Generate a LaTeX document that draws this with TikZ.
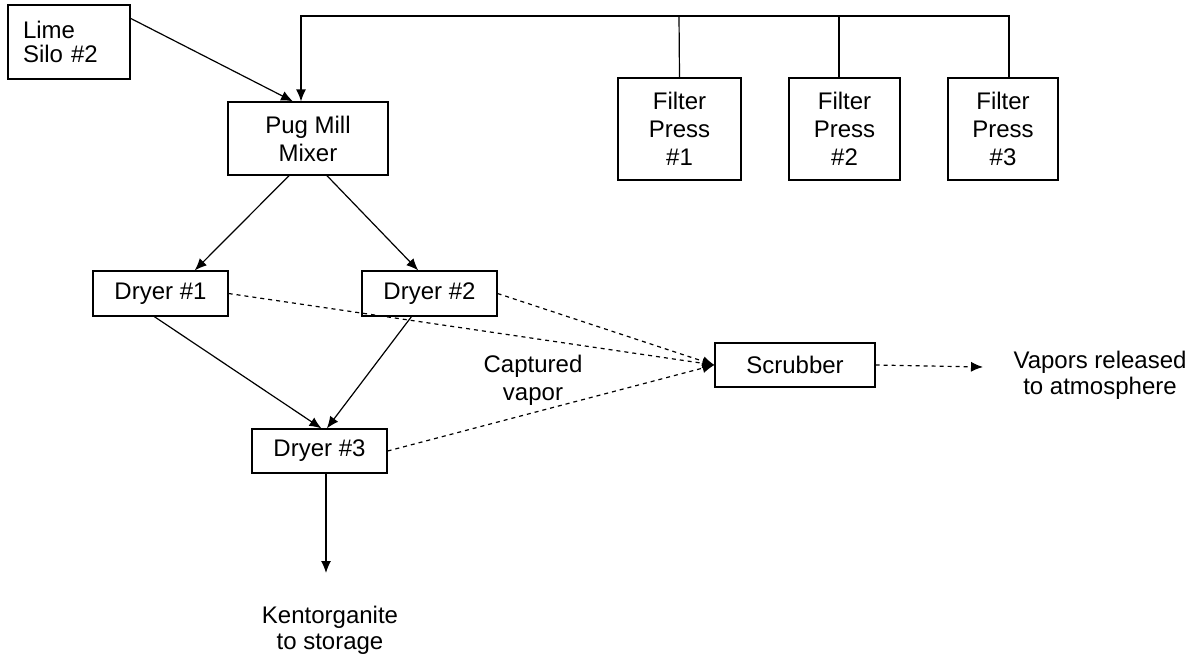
\documentclass[tikz,border=0pt]{standalone}
\usepackage{fontspec}
\setmainfont{Liberation Sans}
\usetikzlibrary{arrows.meta}

\begin{document}
\begin{tikzpicture}[
    x=0.5pt, y=-0.5pt,
    unit/.style={rectangle, draw, line width=0.6pt, font=\fontsize{12}{14}\selectfont, align=center, inner sep=0pt},
    lbl/.style={font=\fontsize{12}{13}\selectfont, align=center, inner sep=0pt},
    flow/.style={line width=0.6pt, -{Latex[length=6pt,width=5pt]}},
    vap/.style={flow, dash pattern=on 2pt off 2pt}
]
    \useasboundingbox (0,0) rectangle (1202,654);

    % sources
    \node[unit, minimum width=61pt, minimum height=37pt, text width=46pt, align=left, font=\fontsize{12}{12}\selectfont] (silo) at (69,42) {Lime\\Silo \#2};
    \node[unit, minimum width=80pt, minimum height=36.5pt] (pug) at (308,138.5) {Pug Mill\\Mixer};
    \node[unit, minimum width=61.5pt, minimum height=51pt] (fp1) at (679.5,129) {Filter\\Press\\\#1};
    \node[unit, minimum width=55.5pt, minimum height=51pt] (fp2) at (844.5,129) {Filter\\Press\\\#2};
    \node[unit, minimum width=55pt, minimum height=51pt] (fp3) at (1003,129) {Filter\\Press\\\#3};

    % dryers and scrubber
    \node[unit, minimum width=67.5pt, minimum height=22.5pt] (d1) at (160.5,293.5) {Dryer \#1};
    \node[unit, minimum width=67.5pt, minimum height=22.5pt] (d2) at (429.5,293.5) {Dryer \#2};
    \node[unit, minimum width=67.5pt, minimum height=22pt] (d3) at (319.5,451) {Dryer \#3};
    \node[unit, minimum width=80pt, minimum height=22pt] (scrub) at (795,365) {Scrubber};

    \node[lbl, font=\fontsize{12}{14}\selectfont] (capt) at (533,380) {Captured\\vapor};
    \node[lbl] (vapors) at (1100,375) {Vapors released\\to atmosphere};
    \node[lbl] (store) at (330,630) {Kentorganite\\to storage};

    \coordinate (t1) at (679,16);
    \coordinate (t2) at (839,16);
    \coordinate (t3) at (1009,16);
    \coordinate (tl) at (301,16);
    \coordinate (kend) at (326,573);
    \coordinate (vend) at (983,367);

    % filter press return line
    \draw[line width=0.6pt] (fp1.north) -- (t1);
    \draw[line width=0.6pt] (t2 |- fp2.north) -- (t2);
    \draw[flow] (t3 |- fp3.north) -- (t3) -- (tl) -- (tl |- pug.north);

    \draw[flow] (silo.21) -- (pug.112);
    \draw[flow] (pug.243) -- (d1.34);
    \draw[flow] (pug.297) -- (d2.116);
    \draw[flow] (d1.255) -- (d3.85);
    \draw[flow] (d2.232) -- (d3.72);
    \draw[flow] (d3.south -| kend) -- (kend);

    % vapor lines
    \draw[vap] (d1.east) -- (scrub.west);
    \draw[vap] (d2.east) -- (scrub.west);
    \draw[vap] (d3.east) -- (scrub.west);
    \draw[vap] (scrub.east) -- (vend);
\end{tikzpicture}
\end{document}
